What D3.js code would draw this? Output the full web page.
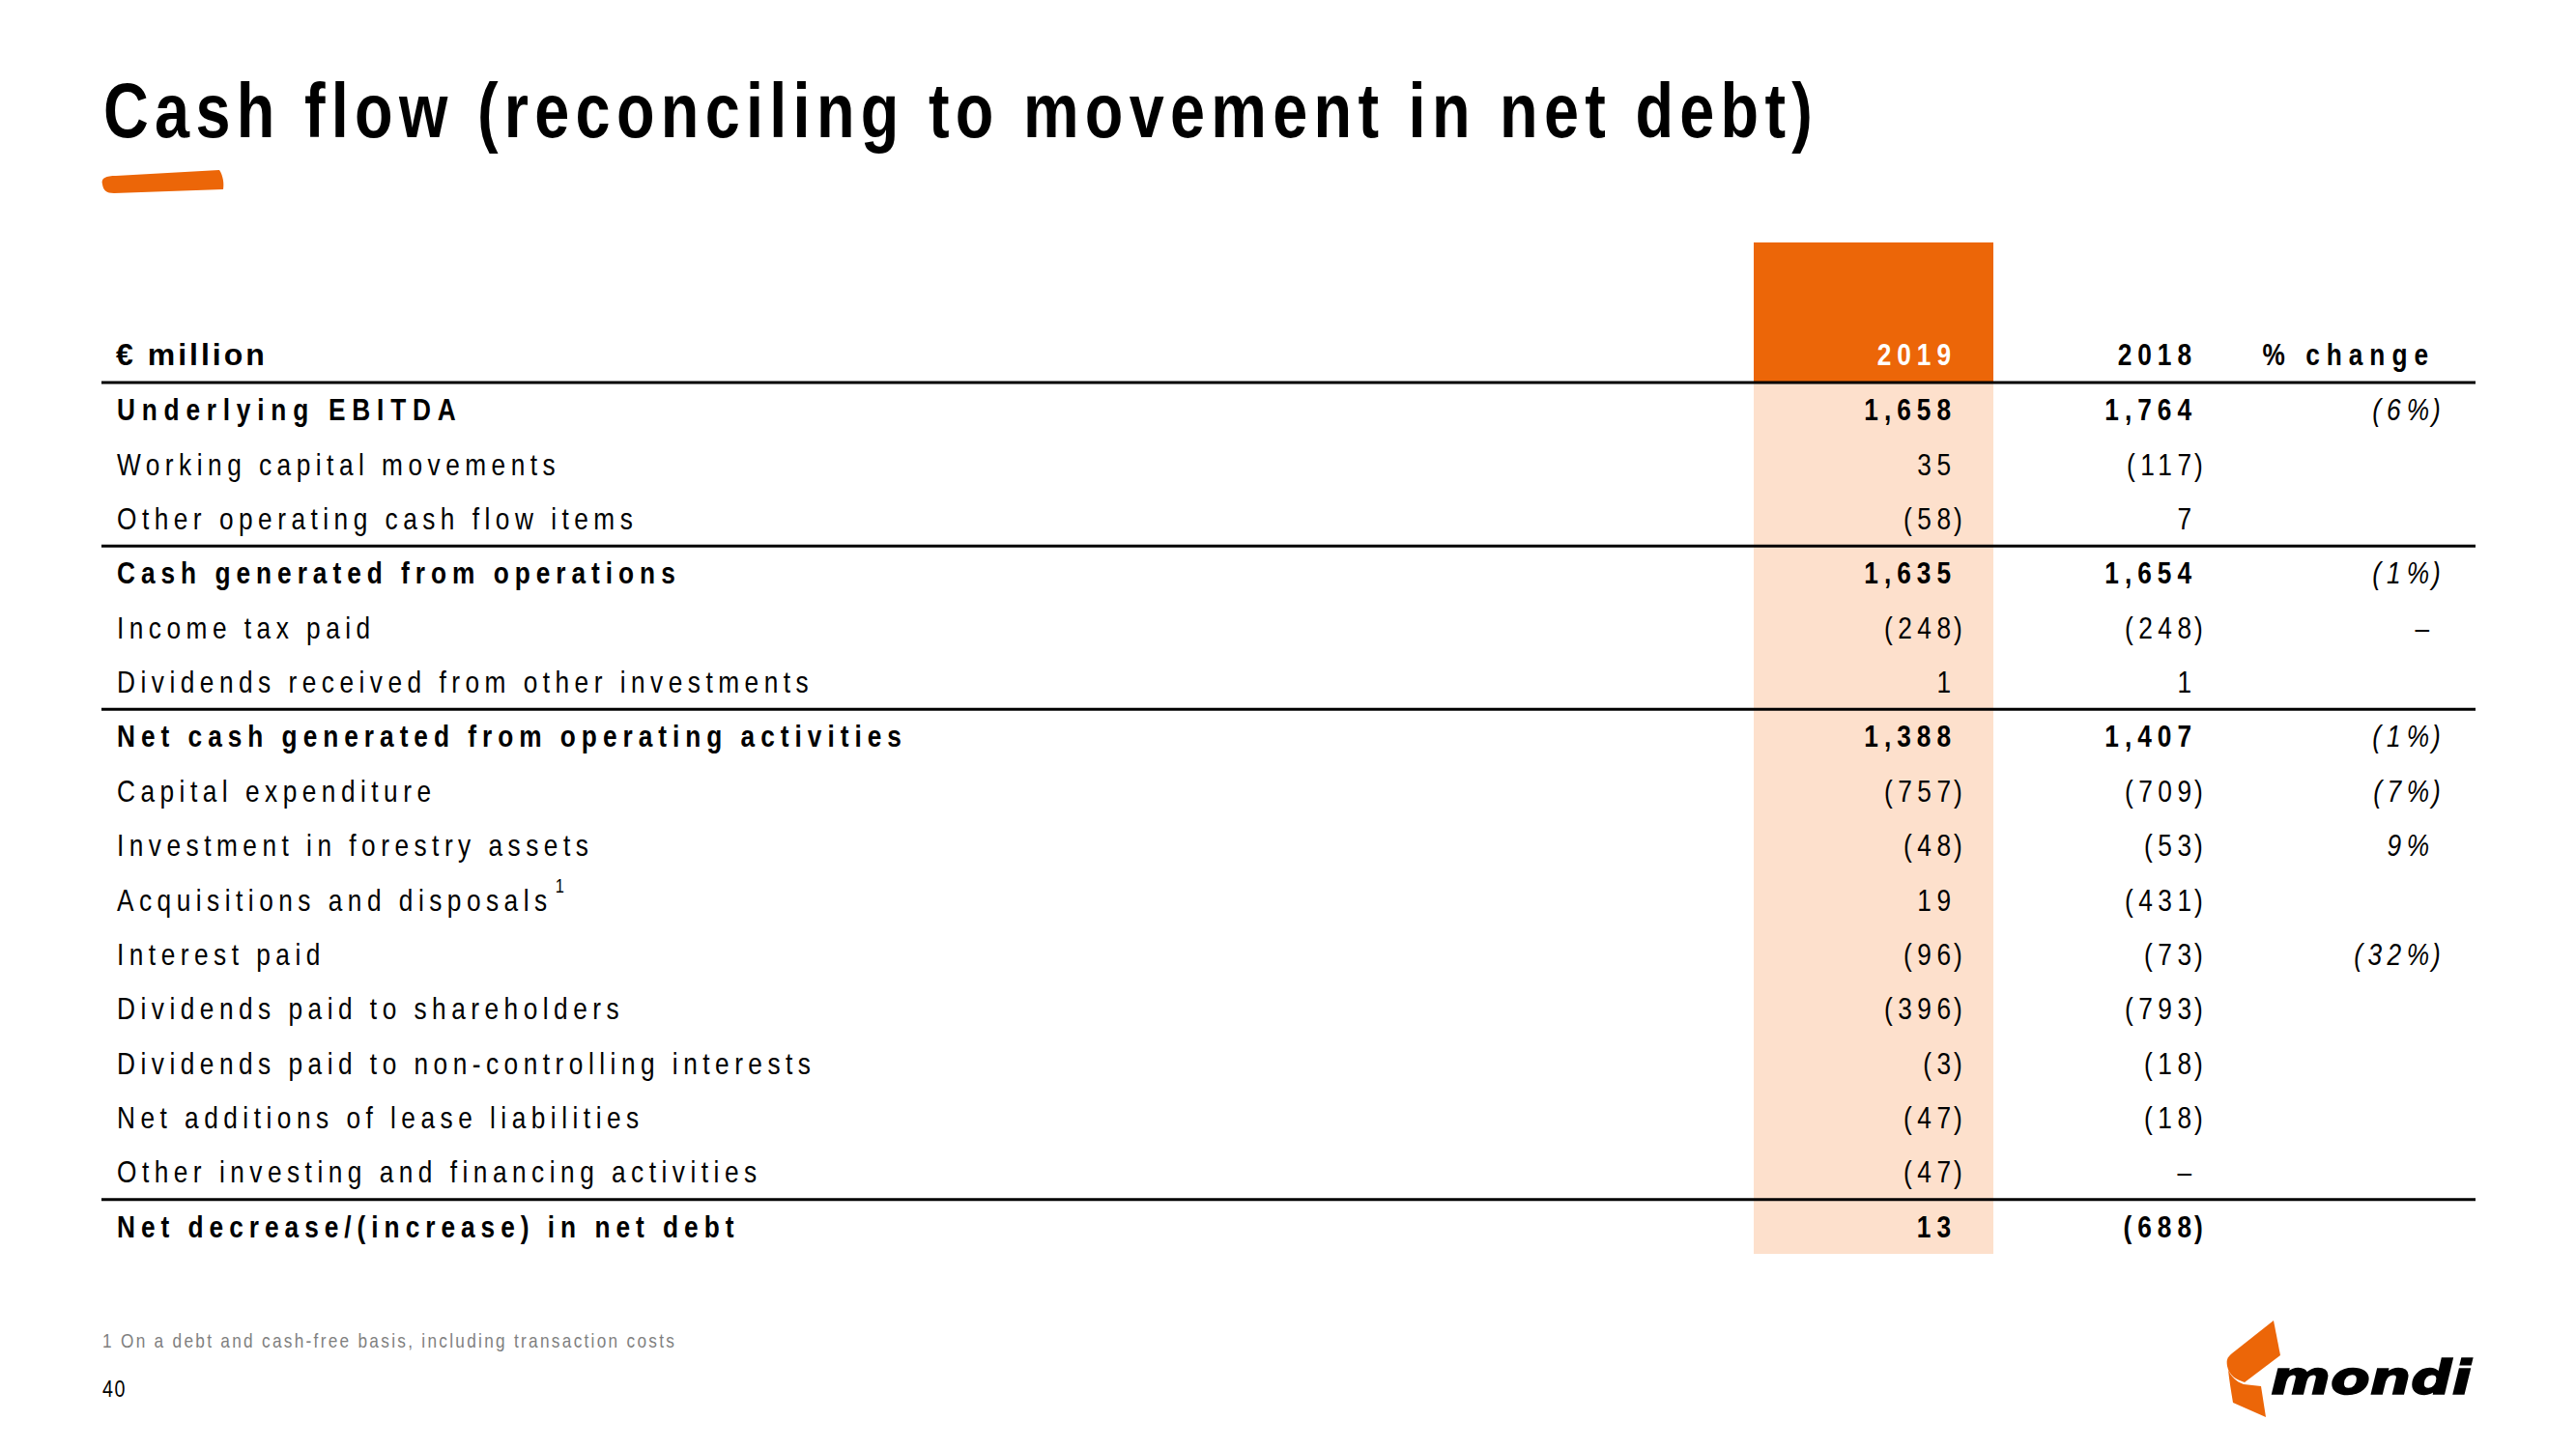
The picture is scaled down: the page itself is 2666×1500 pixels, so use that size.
<!DOCTYPE html>
<html>
<head>
<meta charset="utf-8">
<script src="https://cdn.jsdelivr.net/npm/d3@7/dist/d3.min.js"></script>
<style>
html,body{margin:0;padding:0;background:#fff;}
svg{display:block;}
</style>
</head>
<body>
<script>
// ---------- data ----------
const title = "Cash flow (reconciling to movement in net debt)";
const unitLabel = "€ million";
const columns = ["2019", "2018", "% change"];
const rowLabels = [
  "Underlying EBITDA",
  "Working capital movements",
  "Other operating cash flow items",
  "Cash generated from operations",
  "Income tax paid",
  "Dividends received from other investments",
  "Net cash generated from operating activities",
  "Capital expenditure",
  "Investment in forestry assets",
  "Acquisitions and disposals",
  "Interest paid",
  "Dividends paid to shareholders",
  "Dividends paid to non-controlling interests",
  "Net additions of lease liabilities",
  "Other investing and financing activities",
  "Net decrease/(increase) in net debt"
];
const values2019 = [1658, 35, -58, 1635, -248, 1, 1388, -757, -48, 19, -96, -396, -3, -47, -47, 13];
const values2018 = [1764, -117, 7, 1654, -248, 1, 1407, -709, -53, -431, -73, -793, -18, -18, 0, -688];
const pctChange  = [-6, null, null, -1, 0, null, -1, -7, 9, null, -32, null, null, null, null, null];
const boldRows = [0, 3, 6, 15];
const ruleAfterRows = [2, 5, 14];
const footnoteRows = [9];
const footnote = "1 On a debt and cash-free basis, including transaction costs";
const pageNumber = "40";

// ---------- layout ----------
const W = 2666, H = 1500;
const FONT = "'Liberation Sans',Arial,sans-serif";
const SX = 0.82; // horizontal condensing (narrow face)
const ORANGE = "#ec6608", PEACH = "#fde0cc";
const LS_REG = 5.5, LS_BOLD = 6;
const FS = 32;

const svg = d3.select("body").append("svg").attr("width", W).attr("height", H);

// condensed text helper: x,y in page coords; letter-spacing given in page px
function ctext(parent, x, y, s, o = {}) {
  const sx = o.sx === undefined ? SX : o.sx;
  return parent.append("text")
    .attr("transform", `translate(${x},${y}) scale(${sx},1)`)
    .attr("x", 0).attr("y", 0)
    .attr("text-anchor", o.anchor || "start")
    .attr("font-family", o.family || FONT)
    .attr("font-weight", o.bold ? "bold" : "normal")
    .attr("font-style", o.italic ? "italic" : "normal")
    .attr("font-size", o.size || FS)
    .attr("letter-spacing", (o.ls || 0) / sx)
    .attr("fill", o.fill || "#000")
    .text(s);
}

// title
ctext(svg, 107, 142, title, {bold: true, size: 79, ls: 6.3});

// brush stroke under title
svg.append("path")
  .attr("d", "M106,191 C104,184 110,182 120,182 L227,176 C231,182 232,190 231,196 L118,200 C110,200 107,197 106,191 Z")
  .attr("fill", ORANGE);

// row scale
const y = d3.scaleBand().domain(d3.range(rowLabels.length)).range([396, 1298]);
const xL = 105, xR = 2562;
const col2019 = 2019, col2018 = 2268, colPct = 2514;
const boxX0 = 1815, boxX1 = 2063;

// header boxes
svg.append("rect").attr("x", boxX0).attr("y", 251).attr("width", boxX1 - boxX0).attr("height", y.range()[0] - 251 + 1).attr("fill", ORANGE);
svg.append("rect").attr("x", boxX0).attr("y", y.range()[0]).attr("width", boxX1 - boxX0).attr("height", y.range()[1] - y.range()[0]).attr("fill", PEACH);

// header text
const headerBase = 378;
ctext(svg, 120, headerBase, unitLabel, {bold: true, sx: 1, ls: 3});

const colX = [col2019, col2018, colPct];
columns.forEach((c, i) => {
  ctext(svg, colX[i] + LS_BOLD, headerBase, c, {anchor: "end", bold: true, ls: i === 2 ? 7 : LS_BOLD, fill: i === 0 ? "#fff" : "#000"});
});

// rules
const rules = [y.range()[0]].concat(ruleAfterRows.map(r => y(r) + y.bandwidth()));
svg.selectAll("line.rule").data(rules).enter().append("line")
  .attr("class", "rule")
  .attr("x1", xL).attr("x2", xR).attr("y1", d => d).attr("y2", d => d)
  .attr("stroke", "#000").attr("stroke-width", 3);

const fmtNum = d3.format(",");
function fmt(v) {
  if (v === null || v === undefined) return "";
  if (v === 0) return "\u2013";
  return v < 0 ? "(" + fmtNum(-v) + ")" : fmtNum(v);
}
function fmtPct(v) {
  if (v === null || v === undefined) return "";
  if (v === 0) return "\u2013";
  return v < 0 ? "(" + (-v) + "%)" : v + "%";
}

const rows = svg.selectAll("g.row").data(rowLabels).enter().append("g")
  .attr("class", "row")
  .attr("transform", (d, i) => `translate(0,${y(i) + y.bandwidth() / 2 + 11})`);

rows.each(function (label, i) {
  const g = d3.select(this);
  const bold = boldRows.includes(i);
  const ls = bold ? LS_BOLD : LS_REG;
  const lab = ctext(g, 121, 0, label, {bold, ls: bold && i === 0 ? 6.8 : ls});
  if (footnoteRows.includes(i)) {
    const w = lab.node().getComputedTextLength() * SX;
    ctext(g, 121 + w + 3, -19, "1", {size: 20});
  }
  const cells = [
    {s: fmt(values2019[i]), x: col2019, italic: false},
    {s: fmt(values2018[i]), x: col2018, italic: false},
    {s: fmtPct(pctChange[i]), x: colPct, italic: pctChange[i] !== 0}
  ];
  cells.forEach(c => {
    if (!c.s) return;
    const closing = c.s.endsWith(")");
    const main = closing ? c.s.slice(0, -1) : c.s;
    const b = bold && !c.italic;
    ctext(g, c.x + ls, 0, main, {anchor: "end", bold: b, italic: c.italic, ls});
    if (closing) ctext(g, c.x + 3, 0, ")", {bold: b, italic: c.italic});
  });
});

// footnote & page number
ctext(svg, 106, 1395, footnote, {size: 21, ls: 2.3, fill: "#7f7f7f"});
ctext(svg, 106, 1446, pageNumber, {size: 24, ls: 1.5});

// logo
const logo = svg.append("g");
logo.append("path")
  .attr("d", "M2353,1367 L2360,1403 L2323,1431 C2314,1428 2307,1424 2305,1414 C2304,1408 2305,1405 2310,1401 Z")
  .attr("fill", ORANGE);
logo.append("path")
  .attr("d", "M2306,1418 C2309,1425 2314,1430 2322,1433 L2340,1435 L2345,1467 L2311,1452 C2309,1440 2307,1428 2306,1418 Z")
  .attr("fill", ORANGE);
logo.append("text").attr("x", 2350).attr("y", 1443)
  .attr("font-family", "'DejaVu Sans',sans-serif").attr("font-weight", "bold").attr("font-style", "italic")
  .attr("font-size", 48).attr("textLength", 208).attr("lengthAdjust", "spacingAndGlyphs")
  .attr("stroke", "#000").attr("stroke-width", 1.5)
  .attr("fill", "#000").text("mondi");
</script>
</body>
</html>
